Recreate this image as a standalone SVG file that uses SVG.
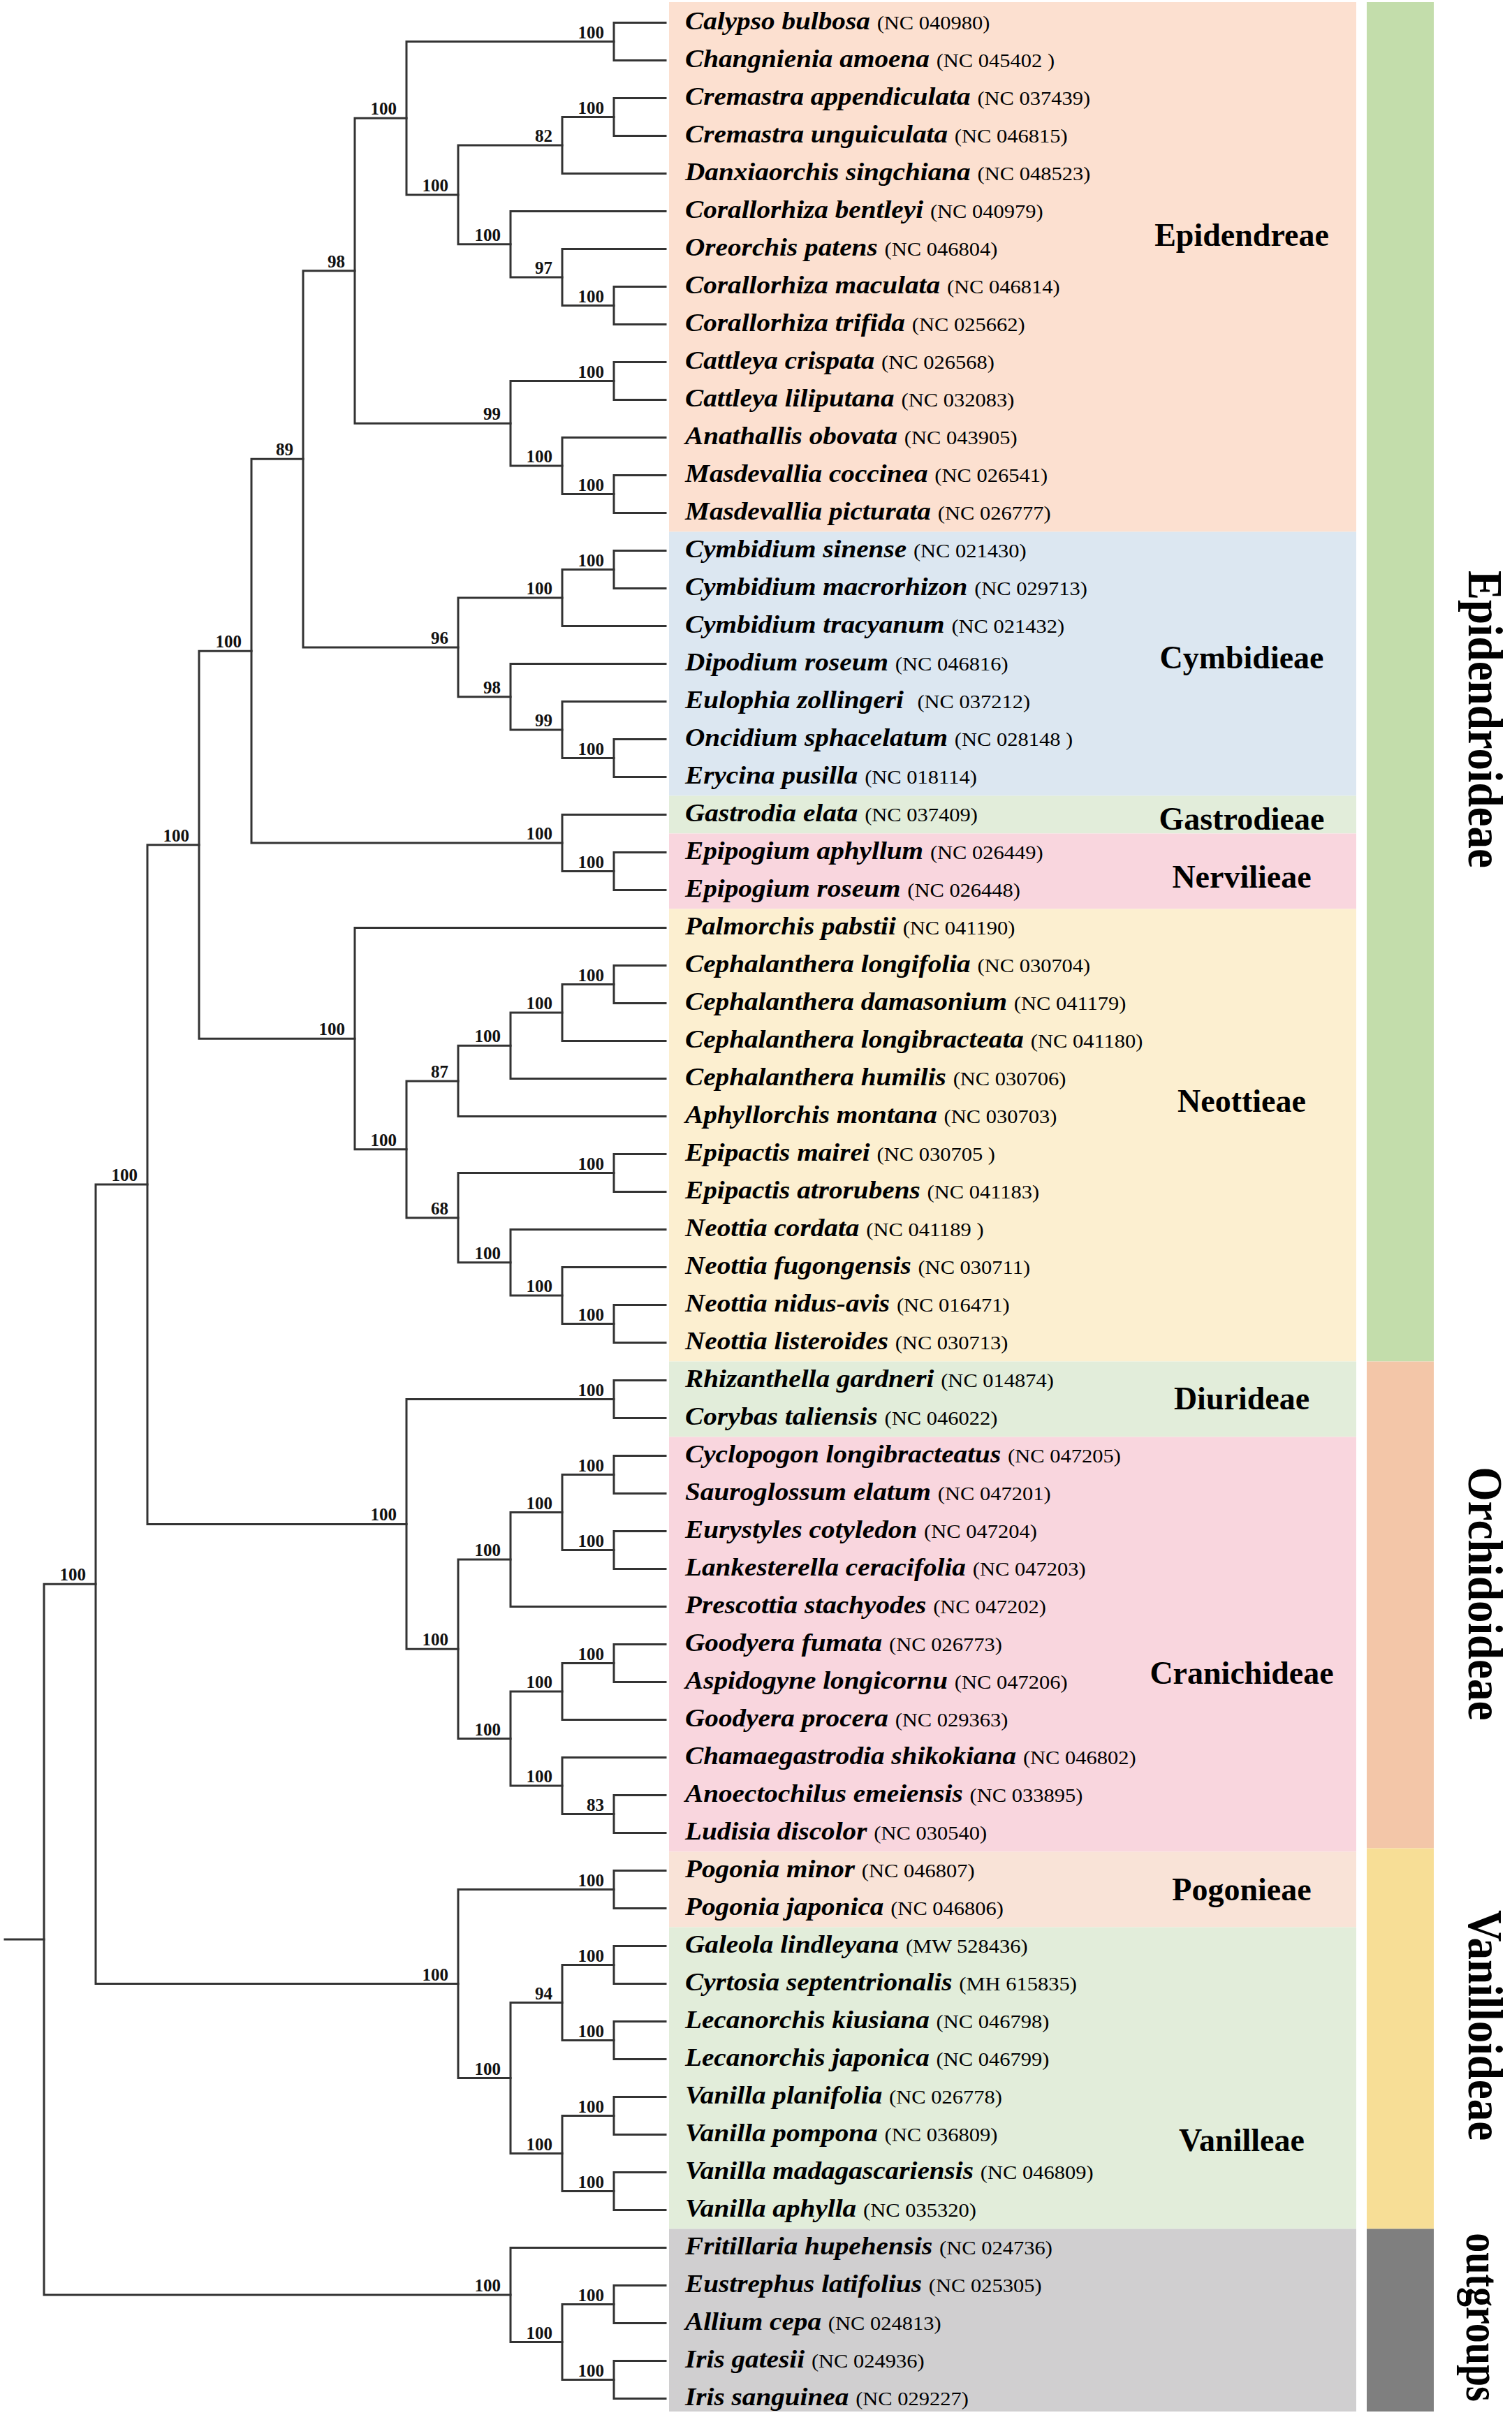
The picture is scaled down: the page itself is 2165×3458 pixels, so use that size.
<svg xmlns="http://www.w3.org/2000/svg" width="2165" height="3458" viewBox="0 0 2165 3458">
<style>
.br{fill:none;stroke:#333;stroke-width:3;stroke-linecap:square;stroke-linejoin:miter}
.bs{font-family:"Liberation Serif","Times New Roman",serif;font-weight:bold;font-size:25px;text-anchor:end;fill:#111}
.lf{font-family:"Liberation Serif","Times New Roman",serif;fill:#000}
.sp{font-weight:bold;font-style:italic;font-size:36px}
.ac{font-weight:normal;font-style:normal;font-size:28px}
.tr{font-family:"Liberation Serif","Times New Roman",serif;font-weight:bold;font-size:46px;text-anchor:middle;fill:#000}
.sf{font-family:"Liberation Serif","Times New Roman",serif;font-weight:bold;font-size:63px;text-anchor:middle;fill:#000}
</style>
<rect x="0" y="0" width="2165" height="3458" fill="#fff"/>
<g id="tribe-bands">
<g id="band-epidendreae"><rect x="958" y="3" width="984" height="758.5" fill="#fce0d0"/><text class="tr" x="1778" y="351.5">Epidendreae</text></g>
<g id="band-cymbidieae"><rect x="958" y="761.5" width="984" height="378" fill="#dce7f1"/><text class="tr" x="1778" y="956.6">Cymbidieae</text></g>
<g id="band-gastrodieae"><rect x="958" y="1139.5" width="984" height="54" fill="#e2edda"/><text class="tr" x="1778" y="1188">Gastrodieae</text></g>
<g id="band-nervilieae"><rect x="958" y="1193.5" width="984" height="108" fill="#f9d6de"/><text class="tr" x="1778" y="1271">Nervilieae</text></g>
<g id="band-neottieae"><rect x="958" y="1301.5" width="984" height="648" fill="#fcefd0"/><text class="tr" x="1778" y="1592">Neottieae</text></g>
<g id="band-diurideae"><rect x="958" y="1949.5" width="984" height="108" fill="#e2edda"/><text class="tr" x="1778" y="2017.6">Diurideae</text></g>
<g id="band-cranichideae"><rect x="958" y="2057.5" width="984" height="594" fill="#f9d6de"/><text class="tr" x="1778" y="2410.5">Cranichideae</text></g>
<g id="band-pogonieae"><rect x="958" y="2651.5" width="984" height="108" fill="#f9e3d7"/><text class="tr" x="1778" y="2720.5">Pogonieae</text></g>
<g id="band-vanilleae"><rect x="958" y="2759.5" width="984" height="432" fill="#e2edda"/><text class="tr" x="1778" y="3080">Vanilleae</text></g>
<g id="band-outgroups"><rect x="958" y="3191.5" width="984" height="261.5" fill="#d0cfd0"/></g>
</g>
<g id="subfamily-bars">
<g id="bar-epidendroideae"><rect x="1957" y="3" width="96" height="1946.5" fill="#c3ddab"/><g transform="translate(2103 1030) scale(1.1 1) rotate(90)"><text class="sf" x="0" y="0">Epidendroideae</text></g></g>
<g id="bar-orchidoideae"><rect x="1957" y="1949.5" width="96" height="697" fill="#f3c6a8"/><g transform="translate(2103 2282) scale(1.1 1) rotate(90)"><text class="sf" x="0" y="0">Orchidoideae</text></g></g>
<g id="bar-vanilloideae"><rect x="1957" y="2646.5" width="96" height="545" fill="#f7de96"/><g transform="translate(2103 2900) scale(1.1 1) rotate(90)"><text class="sf" x="0" y="0">Vanilloideae</text></g></g>
<g id="bar-outgroups"><rect x="1957" y="3191.5" width="96" height="261.5" fill="#7f7f7f"/><g transform="translate(2100 3318) scale(1.22 1) rotate(90)"><text class="sf" x="0" y="0" style="font-size:56px">outgroups</text></g></g>
</g>
<g id="connectors">
<path class="br" d="M953 32.5H879V86.5H953"/>
<path class="br" d="M953 140.5H879V194.5H953"/>
<path class="br" d="M879 167.5H805V248.5H953"/>
<path class="br" d="M953 410.5H879V464.5H953"/>
<path class="br" d="M953 356.5H805V437.5H879"/>
<path class="br" d="M953 302.5H731V397H805"/>
<path class="br" d="M805 208H656V349.75H731"/>
<path class="br" d="M879 59.5H582V278.875H656"/>
<path class="br" d="M953 518.5H879V572.5H953"/>
<path class="br" d="M953 680.5H879V734.5H953"/>
<path class="br" d="M953 626.5H805V707.5H879"/>
<path class="br" d="M879 545.5H731V667H805"/>
<path class="br" d="M582 169.19H508V606.25H731"/>
<path class="br" d="M953 788.5H879V842.5H953"/>
<path class="br" d="M879 815.5H805V896.5H953"/>
<path class="br" d="M953 1058.5H879V1112.5H953"/>
<path class="br" d="M953 1004.5H805V1085.5H879"/>
<path class="br" d="M953 950.5H731V1045H805"/>
<path class="br" d="M805 856H656V997.75H731"/>
<path class="br" d="M508 387.72H434V926.875H656"/>
<path class="br" d="M953 1220.5H879V1274.5H953"/>
<path class="br" d="M953 1166.5H805V1247.5H879"/>
<path class="br" d="M434 657.3H360V1207H805"/>
<path class="br" d="M953 1382.5H879V1436.5H953"/>
<path class="br" d="M879 1409.5H805V1490.5H953"/>
<path class="br" d="M805 1450H731V1544.5H953"/>
<path class="br" d="M731 1497.25H656V1598.5H953"/>
<path class="br" d="M953 1652.5H879V1706.5H953"/>
<path class="br" d="M953 1868.5H879V1922.5H953"/>
<path class="br" d="M953 1814.5H805V1895.5H879"/>
<path class="br" d="M953 1760.5H731V1855H805"/>
<path class="br" d="M879 1679.5H656V1807.75H731"/>
<path class="br" d="M656 1547.875H582V1743.625H656"/>
<path class="br" d="M953 1328.5H508V1645.75H582"/>
<path class="br" d="M360 932.15H285V1487.125H508"/>
<path class="br" d="M953 1976.5H879V2030.5H953"/>
<path class="br" d="M953 2084.5H879V2138.5H953"/>
<path class="br" d="M953 2192.5H879V2246.5H953"/>
<path class="br" d="M879 2111.5H805V2219.5H879"/>
<path class="br" d="M805 2165.5H731V2300.5H953"/>
<path class="br" d="M953 2354.5H879V2408.5H953"/>
<path class="br" d="M879 2381.5H805V2462.5H953"/>
<path class="br" d="M953 2570.5H879V2624.5H953"/>
<path class="br" d="M953 2516.5H805V2597.5H879"/>
<path class="br" d="M805 2422H731V2557H805"/>
<path class="br" d="M731 2233H656V2489.5H731"/>
<path class="br" d="M879 2003.5H582V2361.25H656"/>
<path class="br" d="M285 1209.64H211V2182.375H582"/>
<path class="br" d="M953 2678.5H879V2732.5H953"/>
<path class="br" d="M953 2786.5H879V2840.5H953"/>
<path class="br" d="M953 2894.5H879V2948.5H953"/>
<path class="br" d="M879 2813.5H805V2921.5H879"/>
<path class="br" d="M953 3002.5H879V3056.5H953"/>
<path class="br" d="M953 3110.5H879V3164.5H953"/>
<path class="br" d="M879 3029.5H805V3137.5H879"/>
<path class="br" d="M805 2867.5H731V3083.5H805"/>
<path class="br" d="M879 2705.5H656V2975.5H731"/>
<path class="br" d="M211 1696H137V2840.5H656"/>
<path class="br" d="M953 3272.5H879V3326.5H953"/>
<path class="br" d="M953 3380.5H879V3434.5H953"/>
<path class="br" d="M879 3299.5H805V3407.5H879"/>
<path class="br" d="M953 3218.5H731V3353.5H805"/>
<path class="br" d="M137 2268.25H63V3286H731"/>
<path class="br" d="M7 2777.1H63"/>
</g>
<g id="support-values">
<text class="bs" x="865" y="54.5">100</text>
<text class="bs" x="865" y="162.5">100</text>
<text class="bs" x="791" y="203">82</text>
<text class="bs" x="865" y="432.5">100</text>
<text class="bs" x="791" y="392">97</text>
<text class="bs" x="717" y="344.75">100</text>
<text class="bs" x="642" y="273.9">100</text>
<text class="bs" x="568" y="164.2">100</text>
<text class="bs" x="865" y="540.5">100</text>
<text class="bs" x="865" y="702.5">100</text>
<text class="bs" x="791" y="662">100</text>
<text class="bs" x="717" y="601.25">99</text>
<text class="bs" x="494" y="382.7">98</text>
<text class="bs" x="865" y="810.5">100</text>
<text class="bs" x="791" y="851">100</text>
<text class="bs" x="865" y="1080.5">100</text>
<text class="bs" x="791" y="1040">99</text>
<text class="bs" x="717" y="992.75">98</text>
<text class="bs" x="642" y="921.9">96</text>
<text class="bs" x="420" y="652.3">89</text>
<text class="bs" x="865" y="1242.5">100</text>
<text class="bs" x="791" y="1202">100</text>
<text class="bs" x="346" y="927.2">100</text>
<text class="bs" x="271" y="1204.6">100</text>
<text class="bs" x="865" y="1404.5">100</text>
<text class="bs" x="791" y="1445">100</text>
<text class="bs" x="717" y="1492.25">100</text>
<text class="bs" x="642" y="1542.9">87</text>
<text class="bs" x="865" y="1674.5">100</text>
<text class="bs" x="865" y="1890.5">100</text>
<text class="bs" x="791" y="1850">100</text>
<text class="bs" x="717" y="1802.75">100</text>
<text class="bs" x="642" y="1738.6">68</text>
<text class="bs" x="568" y="1640.75">100</text>
<text class="bs" x="494" y="1482.1">100</text>
<text class="bs" x="865" y="1998.5">100</text>
<text class="bs" x="865" y="2106.5">100</text>
<text class="bs" x="865" y="2214.5">100</text>
<text class="bs" x="791" y="2160.5">100</text>
<text class="bs" x="717" y="2228">100</text>
<text class="bs" x="865" y="2376.5">100</text>
<text class="bs" x="791" y="2417">100</text>
<text class="bs" x="865" y="2592.5">83</text>
<text class="bs" x="791" y="2552">100</text>
<text class="bs" x="717" y="2484.5">100</text>
<text class="bs" x="642" y="2356.25">100</text>
<text class="bs" x="568" y="2177.4">100</text>
<text class="bs" x="197" y="1691">100</text>
<text class="bs" x="865" y="2700.5">100</text>
<text class="bs" x="865" y="2808.5">100</text>
<text class="bs" x="865" y="2916.5">100</text>
<text class="bs" x="791" y="2862.5">94</text>
<text class="bs" x="865" y="3024.5">100</text>
<text class="bs" x="865" y="3132.5">100</text>
<text class="bs" x="791" y="3078.5">100</text>
<text class="bs" x="717" y="2970.5">100</text>
<text class="bs" x="642" y="2835.5">100</text>
<text class="bs" x="123" y="2263.25">100</text>
<text class="bs" x="865" y="3294.5">100</text>
<text class="bs" x="865" y="3402.5">100</text>
<text class="bs" x="791" y="3348.5">100</text>
<text class="bs" x="717" y="3281">100</text>
</g>
<g id="leaves">
<g id="leaf-00" transform="translate(981 41.5) scale(1.09 1)"><text class="lf" xml:space="preserve"><tspan class="sp">Calypso bulbosa </tspan><tspan class="ac">(NC 040980)</tspan></text></g>
<g id="leaf-01" transform="translate(981 95.5) scale(1.09 1)"><text class="lf" xml:space="preserve"><tspan class="sp">Changnienia amoena </tspan><tspan class="ac">(NC 045402 )</tspan></text></g>
<g id="leaf-02" transform="translate(981 149.5) scale(1.09 1)"><text class="lf" xml:space="preserve"><tspan class="sp">Cremastra appendiculata </tspan><tspan class="ac">(NC 037439)</tspan></text></g>
<g id="leaf-03" transform="translate(981 203.5) scale(1.09 1)"><text class="lf" xml:space="preserve"><tspan class="sp">Cremastra unguiculata </tspan><tspan class="ac">(NC 046815)</tspan></text></g>
<g id="leaf-04" transform="translate(981 257.5) scale(1.09 1)"><text class="lf" xml:space="preserve"><tspan class="sp">Danxiaorchis singchiana </tspan><tspan class="ac">(NC 048523)</tspan></text></g>
<g id="leaf-05" transform="translate(981 311.5) scale(1.09 1)"><text class="lf" xml:space="preserve"><tspan class="sp">Corallorhiza bentleyi </tspan><tspan class="ac">(NC 040979)</tspan></text></g>
<g id="leaf-06" transform="translate(981 365.5) scale(1.09 1)"><text class="lf" xml:space="preserve"><tspan class="sp">Oreorchis patens </tspan><tspan class="ac">(NC 046804)</tspan></text></g>
<g id="leaf-07" transform="translate(981 419.5) scale(1.09 1)"><text class="lf" xml:space="preserve"><tspan class="sp">Corallorhiza maculata </tspan><tspan class="ac">(NC 046814)</tspan></text></g>
<g id="leaf-08" transform="translate(981 473.5) scale(1.09 1)"><text class="lf" xml:space="preserve"><tspan class="sp">Corallorhiza trifida </tspan><tspan class="ac">(NC 025662)</tspan></text></g>
<g id="leaf-09" transform="translate(981 527.5) scale(1.09 1)"><text class="lf" xml:space="preserve"><tspan class="sp">Cattleya crispata </tspan><tspan class="ac">(NC 026568)</tspan></text></g>
<g id="leaf-10" transform="translate(981 581.5) scale(1.09 1)"><text class="lf" xml:space="preserve"><tspan class="sp">Cattleya liliputana </tspan><tspan class="ac">(NC 032083)</tspan></text></g>
<g id="leaf-11" transform="translate(981 635.5) scale(1.09 1)"><text class="lf" xml:space="preserve"><tspan class="sp">Anathallis obovata </tspan><tspan class="ac">(NC 043905)</tspan></text></g>
<g id="leaf-12" transform="translate(981 689.5) scale(1.09 1)"><text class="lf" xml:space="preserve"><tspan class="sp">Masdevallia coccinea </tspan><tspan class="ac">(NC 026541)</tspan></text></g>
<g id="leaf-13" transform="translate(981 743.5) scale(1.09 1)"><text class="lf" xml:space="preserve"><tspan class="sp">Masdevallia picturata </tspan><tspan class="ac">(NC 026777)</tspan></text></g>
<g id="leaf-14" transform="translate(981 797.5) scale(1.09 1)"><text class="lf" xml:space="preserve"><tspan class="sp">Cymbidium sinense </tspan><tspan class="ac">(NC 021430)</tspan></text></g>
<g id="leaf-15" transform="translate(981 851.5) scale(1.09 1)"><text class="lf" xml:space="preserve"><tspan class="sp">Cymbidium macrorhizon </tspan><tspan class="ac">(NC 029713)</tspan></text></g>
<g id="leaf-16" transform="translate(981 905.5) scale(1.09 1)"><text class="lf" xml:space="preserve"><tspan class="sp">Cymbidium tracyanum </tspan><tspan class="ac">(NC 021432)</tspan></text></g>
<g id="leaf-17" transform="translate(981 959.5) scale(1.09 1)"><text class="lf" xml:space="preserve"><tspan class="sp">Dipodium roseum </tspan><tspan class="ac">(NC 046816)</tspan></text></g>
<g id="leaf-18" transform="translate(981 1013.5) scale(1.09 1)"><text class="lf" xml:space="preserve"><tspan class="sp">Eulophia zollingeri  </tspan><tspan class="ac">(NC 037212)</tspan></text></g>
<g id="leaf-19" transform="translate(981 1067.5) scale(1.09 1)"><text class="lf" xml:space="preserve"><tspan class="sp">Oncidium sphacelatum </tspan><tspan class="ac">(NC 028148 )</tspan></text></g>
<g id="leaf-20" transform="translate(981 1121.5) scale(1.09 1)"><text class="lf" xml:space="preserve"><tspan class="sp">Erycina pusilla </tspan><tspan class="ac">(NC 018114)</tspan></text></g>
<g id="leaf-21" transform="translate(981 1175.5) scale(1.09 1)"><text class="lf" xml:space="preserve"><tspan class="sp">Gastrodia elata </tspan><tspan class="ac">(NC 037409)</tspan></text></g>
<g id="leaf-22" transform="translate(981 1229.5) scale(1.09 1)"><text class="lf" xml:space="preserve"><tspan class="sp">Epipogium aphyllum </tspan><tspan class="ac">(NC 026449)</tspan></text></g>
<g id="leaf-23" transform="translate(981 1283.5) scale(1.09 1)"><text class="lf" xml:space="preserve"><tspan class="sp">Epipogium roseum </tspan><tspan class="ac">(NC 026448)</tspan></text></g>
<g id="leaf-24" transform="translate(981 1337.5) scale(1.09 1)"><text class="lf" xml:space="preserve"><tspan class="sp">Palmorchis pabstii </tspan><tspan class="ac">(NC 041190)</tspan></text></g>
<g id="leaf-25" transform="translate(981 1391.5) scale(1.09 1)"><text class="lf" xml:space="preserve"><tspan class="sp">Cephalanthera longifolia </tspan><tspan class="ac">(NC 030704)</tspan></text></g>
<g id="leaf-26" transform="translate(981 1445.5) scale(1.09 1)"><text class="lf" xml:space="preserve"><tspan class="sp">Cephalanthera damasonium </tspan><tspan class="ac">(NC 041179)</tspan></text></g>
<g id="leaf-27" transform="translate(981 1499.5) scale(1.09 1)"><text class="lf" xml:space="preserve"><tspan class="sp">Cephalanthera longibracteata </tspan><tspan class="ac">(NC 041180)</tspan></text></g>
<g id="leaf-28" transform="translate(981 1553.5) scale(1.09 1)"><text class="lf" xml:space="preserve"><tspan class="sp">Cephalanthera humilis </tspan><tspan class="ac">(NC 030706)</tspan></text></g>
<g id="leaf-29" transform="translate(981 1607.5) scale(1.09 1)"><text class="lf" xml:space="preserve"><tspan class="sp">Aphyllorchis montana </tspan><tspan class="ac">(NC 030703)</tspan></text></g>
<g id="leaf-30" transform="translate(981 1661.5) scale(1.09 1)"><text class="lf" xml:space="preserve"><tspan class="sp">Epipactis mairei </tspan><tspan class="ac">(NC 030705 )</tspan></text></g>
<g id="leaf-31" transform="translate(981 1715.5) scale(1.09 1)"><text class="lf" xml:space="preserve"><tspan class="sp">Epipactis atrorubens </tspan><tspan class="ac">(NC 041183)</tspan></text></g>
<g id="leaf-32" transform="translate(981 1769.5) scale(1.09 1)"><text class="lf" xml:space="preserve"><tspan class="sp">Neottia cordata </tspan><tspan class="ac">(NC 041189 )</tspan></text></g>
<g id="leaf-33" transform="translate(981 1823.5) scale(1.09 1)"><text class="lf" xml:space="preserve"><tspan class="sp">Neottia fugongensis </tspan><tspan class="ac">(NC 030711)</tspan></text></g>
<g id="leaf-34" transform="translate(981 1877.5) scale(1.09 1)"><text class="lf" xml:space="preserve"><tspan class="sp">Neottia nidus-avis </tspan><tspan class="ac">(NC 016471)</tspan></text></g>
<g id="leaf-35" transform="translate(981 1931.5) scale(1.09 1)"><text class="lf" xml:space="preserve"><tspan class="sp">Neottia listeroides </tspan><tspan class="ac">(NC 030713)</tspan></text></g>
<g id="leaf-36" transform="translate(981 1985.5) scale(1.09 1)"><text class="lf" xml:space="preserve"><tspan class="sp">Rhizanthella gardneri </tspan><tspan class="ac">(NC 014874)</tspan></text></g>
<g id="leaf-37" transform="translate(981 2039.5) scale(1.09 1)"><text class="lf" xml:space="preserve"><tspan class="sp">Corybas taliensis </tspan><tspan class="ac">(NC 046022)</tspan></text></g>
<g id="leaf-38" transform="translate(981 2093.5) scale(1.09 1)"><text class="lf" xml:space="preserve"><tspan class="sp">Cyclopogon longibracteatus </tspan><tspan class="ac">(NC 047205)</tspan></text></g>
<g id="leaf-39" transform="translate(981 2147.5) scale(1.09 1)"><text class="lf" xml:space="preserve"><tspan class="sp">Sauroglossum elatum </tspan><tspan class="ac">(NC 047201)</tspan></text></g>
<g id="leaf-40" transform="translate(981 2201.5) scale(1.09 1)"><text class="lf" xml:space="preserve"><tspan class="sp">Eurystyles cotyledon </tspan><tspan class="ac">(NC 047204)</tspan></text></g>
<g id="leaf-41" transform="translate(981 2255.5) scale(1.09 1)"><text class="lf" xml:space="preserve"><tspan class="sp">Lankesterella ceracifolia </tspan><tspan class="ac">(NC 047203)</tspan></text></g>
<g id="leaf-42" transform="translate(981 2309.5) scale(1.09 1)"><text class="lf" xml:space="preserve"><tspan class="sp">Prescottia stachyodes </tspan><tspan class="ac">(NC 047202)</tspan></text></g>
<g id="leaf-43" transform="translate(981 2363.5) scale(1.09 1)"><text class="lf" xml:space="preserve"><tspan class="sp">Goodyera fumata </tspan><tspan class="ac">(NC 026773)</tspan></text></g>
<g id="leaf-44" transform="translate(981 2417.5) scale(1.09 1)"><text class="lf" xml:space="preserve"><tspan class="sp">Aspidogyne longicornu </tspan><tspan class="ac">(NC 047206)</tspan></text></g>
<g id="leaf-45" transform="translate(981 2471.5) scale(1.09 1)"><text class="lf" xml:space="preserve"><tspan class="sp">Goodyera procera </tspan><tspan class="ac">(NC 029363)</tspan></text></g>
<g id="leaf-46" transform="translate(981 2525.5) scale(1.09 1)"><text class="lf" xml:space="preserve"><tspan class="sp">Chamaegastrodia shikokiana </tspan><tspan class="ac">(NC 046802)</tspan></text></g>
<g id="leaf-47" transform="translate(981 2579.5) scale(1.09 1)"><text class="lf" xml:space="preserve"><tspan class="sp">Anoectochilus emeiensis </tspan><tspan class="ac">(NC 033895)</tspan></text></g>
<g id="leaf-48" transform="translate(981 2633.5) scale(1.09 1)"><text class="lf" xml:space="preserve"><tspan class="sp">Ludisia discolor </tspan><tspan class="ac">(NC 030540)</tspan></text></g>
<g id="leaf-49" transform="translate(981 2687.5) scale(1.09 1)"><text class="lf" xml:space="preserve"><tspan class="sp">Pogonia minor </tspan><tspan class="ac">(NC 046807)</tspan></text></g>
<g id="leaf-50" transform="translate(981 2741.5) scale(1.09 1)"><text class="lf" xml:space="preserve"><tspan class="sp">Pogonia japonica </tspan><tspan class="ac">(NC 046806)</tspan></text></g>
<g id="leaf-51" transform="translate(981 2795.5) scale(1.09 1)"><text class="lf" xml:space="preserve"><tspan class="sp">Galeola lindleyana </tspan><tspan class="ac">(MW 528436)</tspan></text></g>
<g id="leaf-52" transform="translate(981 2849.5) scale(1.09 1)"><text class="lf" xml:space="preserve"><tspan class="sp">Cyrtosia septentrionalis </tspan><tspan class="ac">(MH 615835)</tspan></text></g>
<g id="leaf-53" transform="translate(981 2903.5) scale(1.09 1)"><text class="lf" xml:space="preserve"><tspan class="sp">Lecanorchis kiusiana </tspan><tspan class="ac">(NC 046798)</tspan></text></g>
<g id="leaf-54" transform="translate(981 2957.5) scale(1.09 1)"><text class="lf" xml:space="preserve"><tspan class="sp">Lecanorchis japonica </tspan><tspan class="ac">(NC 046799)</tspan></text></g>
<g id="leaf-55" transform="translate(981 3011.5) scale(1.09 1)"><text class="lf" xml:space="preserve"><tspan class="sp">Vanilla planifolia </tspan><tspan class="ac">(NC 026778)</tspan></text></g>
<g id="leaf-56" transform="translate(981 3065.5) scale(1.09 1)"><text class="lf" xml:space="preserve"><tspan class="sp">Vanilla pompona </tspan><tspan class="ac">(NC 036809)</tspan></text></g>
<g id="leaf-57" transform="translate(981 3119.5) scale(1.09 1)"><text class="lf" xml:space="preserve"><tspan class="sp">Vanilla madagascariensis </tspan><tspan class="ac">(NC 046809)</tspan></text></g>
<g id="leaf-58" transform="translate(981 3173.5) scale(1.09 1)"><text class="lf" xml:space="preserve"><tspan class="sp">Vanilla aphylla </tspan><tspan class="ac">(NC 035320)</tspan></text></g>
<g id="leaf-59" transform="translate(981 3227.5) scale(1.09 1)"><text class="lf" xml:space="preserve"><tspan class="sp">Fritillaria hupehensis </tspan><tspan class="ac">(NC 024736)</tspan></text></g>
<g id="leaf-60" transform="translate(981 3281.5) scale(1.09 1)"><text class="lf" xml:space="preserve"><tspan class="sp">Eustrephus latifolius </tspan><tspan class="ac">(NC 025305)</tspan></text></g>
<g id="leaf-61" transform="translate(981 3335.5) scale(1.09 1)"><text class="lf" xml:space="preserve"><tspan class="sp">Allium cepa </tspan><tspan class="ac">(NC 024813)</tspan></text></g>
<g id="leaf-62" transform="translate(981 3389.5) scale(1.09 1)"><text class="lf" xml:space="preserve"><tspan class="sp">Iris gatesii </tspan><tspan class="ac">(NC 024936)</tspan></text></g>
<g id="leaf-63" transform="translate(981 3443.5) scale(1.09 1)"><text class="lf" xml:space="preserve"><tspan class="sp">Iris sanguinea </tspan><tspan class="ac">(NC 029227)</tspan></text></g>
</g>
</svg>
